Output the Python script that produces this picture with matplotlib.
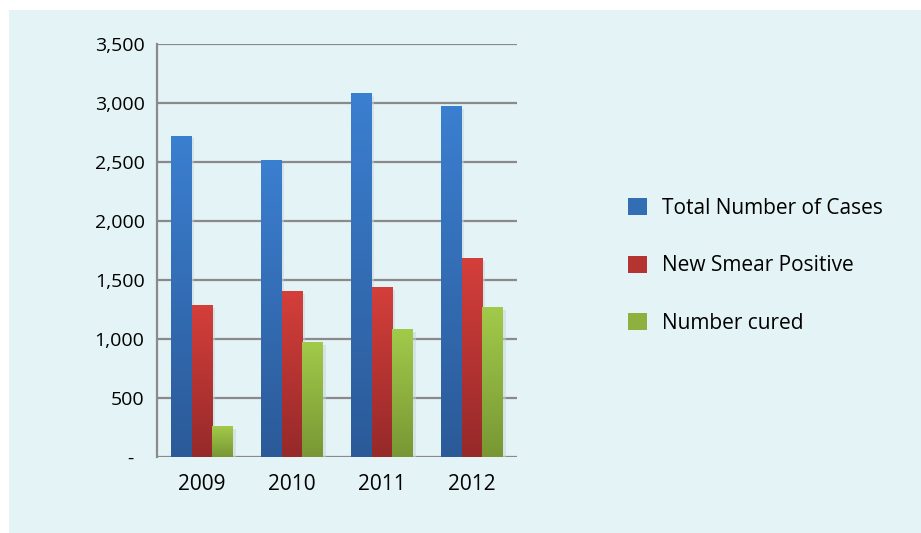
import numpy as np
from matplotlib import pyplot as plt
from matplotlib.patches import Patch, Rectangle
import matplotlib.colors as colors

plt.rcParams['font.family'] = ['Open Sans', 'DejaVu Sans']

years = ['2009', '2010', '2011', '2012']
total_cases = [2720, 2510, 3080, 2970]
new_smear = [1285, 1400, 1435, 1680]
cured = [255, 968, 1080, 1265]
series_names = ['Total Number of Cases', 'New Smear Positive', 'Number cured']

# top colour, bottom colour for each series
grad = [('#3b7fd0', '#2b5a98'), ('#d43f3a', '#96292a'), ('#a2ca4a', '#789734')]

bg = '#e4f3f6'
fig = plt.figure(figsize=(9.21, 5.33), dpi=100)
fig.patch.set_facecolor('white')
fig.add_artist(Rectangle((9/921, 0), 1, 1 - 10/533, transform=fig.transFigure,
                         facecolor=bg, edgecolor='none', zorder=0))

ax = fig.add_axes([157/921, 1 - 457/533, 360/921, 413/533])
ax.set_facecolor('none')

x = np.arange(len(years))
w = 0.233
grid = np.linspace(1, 0, 256).reshape(-1, 1)
for k, vals in enumerate([total_cases, new_smear, cured]):
    top_c, bot_c = grad[k]
    cmap = colors.LinearSegmentedColormap.from_list('g%d' % k, [bot_c, top_c])
    bars = ax.bar(x + (k - 1) * w, vals, w, color='none', zorder=3)
    for b in bars:
        x0, y0 = b.get_x(), b.get_y()
        x1, y1 = x0 + b.get_width(), y0 + b.get_height()
        # soft shadow to the right
        ax.add_patch(Rectangle((x1, y0), 0.03, y1 - y0 - 20, facecolor='#c4d4d8',
                               edgecolor='none', alpha=0.5, zorder=2))
        ax.imshow(grid, cmap=cmap, extent=(x0, x1, y0, y1), aspect='auto',
                  zorder=3, vmin=0, vmax=1, interpolation='bilinear')

ax.set_xlim(-0.5, 3.5)
ax.set_ylim(0, 3500)
ax.set_yticks(np.arange(0, 3501, 500))
ax.set_yticklabels(['-  '] + ['{:,}'.format(v) for v in range(500, 3501, 500)])
ax.set_xticks(x)
ax.set_xticklabels(years)
ax.yaxis.grid(True, color='#8a8a8a', lw=1.6)
ax.set_axisbelow(True)
for s in ['top', 'right', 'bottom']:
    ax.spines[s].set_visible(False)
ax.spines['left'].set_color('#8a8a8a')
ax.spines['left'].set_linewidth(1.6)
ax.tick_params(axis='y', length=0, labelsize=14, colors='black', pad=9)
ax.tick_params(axis='x', length=0, labelsize=15, colors='black', pad=12)

handles = [Patch(facecolor=colors.to_hex(np.mean([colors.to_rgb(a), colors.to_rgb(b)], axis=0)),
                 edgecolor='none') for a, b in grad]
fig.legend(handles, series_names, loc='center left', bbox_to_anchor=(609/921, 1 - 266/533),
           frameon=False, fontsize=15, handlelength=0.9, handleheight=0.9,
           handletextpad=0.75, labelspacing=1.75)

plt.savefig('out.png', dpi=100, facecolor='white')
